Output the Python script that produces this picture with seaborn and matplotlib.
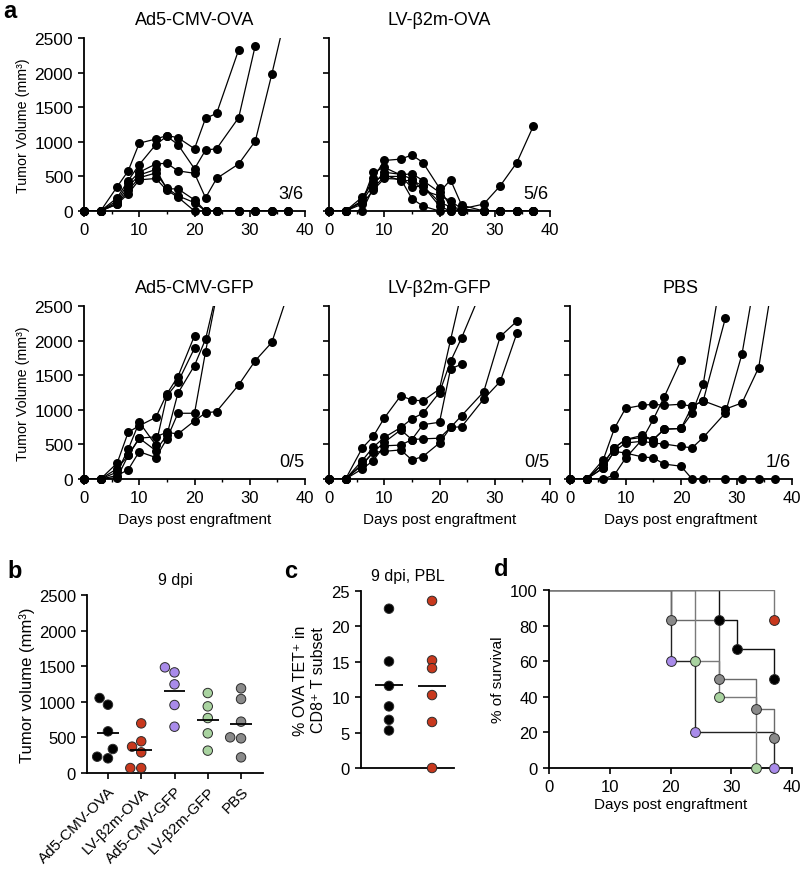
import numpy as np
import pandas as pd
import matplotlib
matplotlib.use("Agg")
import matplotlib.pyplot as plt
import seaborn as sns

# ---------------- data ----------------
DAYS = [0, 3, 6, 8, 10, 13, 15, 17, 20, 22, 24, 28, 31, 34, 37]

AD5_OVA = [
    [0, 0, 350, 580, 980, 1040, 1090, 1060, 900, 1340, 1410, 2330],
    [0, 0, 190, 440, 670, 960, 1080, 960, 610, 880, 900, 1350, 2390],
    [0, 0, 150, 400, 560, 680, 690, 580, 545, 190, 470, 680, 1010, 1980, 3000],
    [0, 0, 120, 350, 520, 600, 320, 320, 160, 0, 0, 0, 0, 0, 0],
    [0, 0, 100, 300, 480, 550, 330, 220, 120, 0, 0, 0, 0, 0, 0],
    [0, 0, 100, 250, 450, 470, 300, 200, 0, 0, 0, 0, 0, 0, 0],
]
LV_OVA = [
    [0, 0, 200, 420, 520, 440, 440, 365, 125, 60, 30, 100, 365, 700, 1230],
    [0, 0, 150, 470, 730, 750, 810, 700, 330, 60, 0, 0, 0, 0, 0],
    [0, 0, 130, 560, 630, 520, 540, 440, 270, 450, 85, 0, 0, 0, 0],
    [0, 0, 140, 380, 560, 530, 460, 295, 220, 150, 30, 0, 0, 0, 0],
    [0, 0, 0, 330, 500, 500, 340, 365, 70, 0, 0, 0, 0, 0, 0],
    [0, 0, 100, 300, 470, 460, 180, 70, 0, 0, 0, 0, 0, 0, 0],
]
AD5_GFP = [
    [0, 0, 230, 675, 770, 890, 1230, 1480, 2070],
    [0, 0, 100, 430, 820, 490, 1200, 1400, 1890],
    [0, 0, 150, 340, 590, 410, 635, 1240, 1640, 2020, 2700],
    [0, 0, 50, 135, 395, 310, 580, 950, 950, 1840, 2650],
    [0, 0, 20, 340, 590, 610, 675, 650, 840, 955, 975, 1360, 1710, 1975, 2700],
]
LV_GFP = [
    [0, 0, 445, 615, 880, 1205, 1140, 1130, 1300, 2010, 2700],
    [0, 0, 265, 460, 600, 745, 870, 950, 1250, 1700, 2040, 2800],
    [0, 0, 215, 385, 530, 710, 570, 785, 820, 1590, 1660],
    [0, 0, 145, 265, 480, 490, 570, 580, 590, 745, 915, 1260, 2060, 2280],
    [0, 0, 200, 385, 400, 420, 275, 325, 520, 745, 755, 1155, 1410, 2105],
]
PBS = [
    [0, 0, 160, 400, 375, 320, 305, 215, 185, 0, 0, 0, 0, 0, 0],
    [0, 0, 0, 60, 300, 570, 860, 1190, 1715],
    [0, 0, 280, 730, 1020, 1065, 1080, 1065, 1080, 1050, 1130, 1010, 1100, 1610, 3100],
    [0, 0, 220, 450, 570, 630, 570, 720, 730, 955, 1370, 3300],
    [0, 0, 160, 400, 520, 545, 520, 505, 470, 450, 600, 955, 1810, 3200],
    [0, 0, 220, 450, 570, 600, 570, 720, 730, 1050, 1130, 2325],
]
TUMOR_TITLES = ["Ad5-CMV-OVA", "LV-\u03b22m-OVA", "Ad5-CMV-GFP", "LV-\u03b22m-GFP", "PBS"]
TUMOR_FREE = ["3/6", "5/6", "0/5", "0/5", "1/6"]

# panel b (9 dpi tumour volume)
GROUPS = ["Ad5-CMV-OVA", "LV-\u03b22m-OVA", "Ad5-CMV-GFP", "LV-\u03b22m-GFP", "PBS"]
B_AD5_OVA = [1053, 959, 585, 337, 206, 229]
B_LV_OVA = [697, 445, 370, 290, 70, 70]
B_AD5_GFP = [1484, 1413, 1245, 955, 650]
B_LV_GFP = [1123, 936, 772, 557, 314]
B_PBS = [1189, 1039, 721, 501, 487, 220]
GROUP_COLORS = ["#000000", "#c8381d", "#a98bea", "#a9d3a0", "#8a8a8a"]

# panel c (tetramer)
C_AD5_OVA = [22.5, 15.05, 11.6, 8.7, 6.8, 5.3]
C_LV_OVA = [23.6, 15.2, 14.1, 10.3, 6.5, 0.0]

# panel d (survival)
SURV_T = {
    "Ad5-CMV-OVA": [0, 28, 31, 37],
    "LV-\u03b22m-OVA": [0, 37],
    "Ad5-CMV-GFP": [0, 20, 24, 37],
    "LV-\u03b22m-GFP": [0, 24, 28, 34],
    "PBS": [0, 20, 28, 34, 37],
}
SURV_S = {
    "Ad5-CMV-OVA": [100, 83.3, 66.7, 50],
    "LV-\u03b22m-OVA": [100, 83.3],
    "Ad5-CMV-GFP": [100, 60, 20, 0],
    "LV-\u03b22m-GFP": [100, 60, 40, 0],
    "PBS": [100, 83.3, 50, 33.3, 16.7],
}
SURV_LINE = {
    "Ad5-CMV-OVA": "#111111",
    "LV-\u03b22m-OVA": "#7a7a7a",
    "Ad5-CMV-GFP": "#222222",
    "LV-\u03b22m-GFP": "#7a7a7a",
    "PBS": "#6a6a6a",
}

# ---------------- style ----------------
sns.set_theme(style="ticks")
plt.rcParams["font.family"] = ["Liberation Sans", "DejaVu Sans"]
plt.rcParams.update({
    "axes.linewidth": 1.3,
    "xtick.major.width": 1.2,
    "ytick.major.width": 1.2,
    "xtick.minor.width": 1.0,
    "xtick.major.size": 4.5,
    "ytick.major.size": 4.5,
    "xtick.minor.size": 2.5,
    "xtick.labelsize": 11.5,
    "ytick.labelsize": 11.5,
    "axes.labelsize": 11,
    "axes.edgecolor": "black",
    "xtick.color": "black",
    "ytick.color": "black",
    "text.color": "black",
    "axes.labelcolor": "black",
})

W, H = 800, 870
fig = plt.figure(figsize=(W / 100, H / 100), dpi=100)


def add_ax(l, t, r, b):
    return fig.add_axes([l / W, 1 - b / H, (r - l) / W, (b - t) / H])


def tumor_panel(ax, mice, title, ratio, ylab, xlab):
    rows = []
    for i, m in enumerate(mice):
        for d, v in zip(DAYS, m):
            rows.append((i, d, v))
    df = pd.DataFrame(rows, columns=["mouse", "day", "vol"])
    sns.lineplot(data=df, x="day", y="vol", units="mouse", estimator=None,
                 color="black", lw=0.9, ax=ax, sort=False, legend=False)
    vis = df[df.vol <= 2500]
    sns.scatterplot(data=vis, x="day", y="vol", color="black", s=42,
                    linewidth=0, ax=ax, clip_on=False, zorder=5, legend=False)
    ax.set_xlim(0, 40)
    ax.set_ylim(0, 2500)
    ax.set_xticks([0, 10, 20, 30, 40])
    ax.set_xticks(np.arange(0, 41, 5), minor=True)
    ax.set_yticks(np.arange(0, 2501, 500))
    ax.tick_params(axis="y", labelsize=12.5)
    ax.tick_params(axis="x", labelsize=12)
    if not ylab:
        ax.set_yticklabels([])
        ax.set_ylabel("")
    else:
        ax.set_ylabel("Tumor Volume (mm\u00b3)", labelpad=3, fontsize=10.3)
    ax.set_xlabel("Days post engraftment" if xlab else "", labelpad=5)
    ax.set_title(title, fontsize=13, pad=10)
    ax.text(0.995, 0.10, ratio, transform=ax.transAxes, ha="right",
            va="center", fontsize=13)
    sns.despine(ax=ax)


ax1 = add_ax(84, 39, 305, 212)
ax2 = add_ax(329, 39, 550, 212)
ax3 = add_ax(84, 307, 305, 480)
ax4 = add_ax(329, 307, 550, 480)
ax5 = add_ax(570, 307, 792, 480)
tumor_panel(ax1, AD5_OVA, TUMOR_TITLES[0], TUMOR_FREE[0], True, False)
tumor_panel(ax2, LV_OVA, TUMOR_TITLES[1], TUMOR_FREE[1], False, False)
tumor_panel(ax3, AD5_GFP, TUMOR_TITLES[2], TUMOR_FREE[2], True, True)
tumor_panel(ax4, LV_GFP, TUMOR_TITLES[3], TUMOR_FREE[3], False, True)
tumor_panel(ax5, PBS, TUMOR_TITLES[4], TUMOR_FREE[4], False, True)

# ---------------- panel b ----------------
axb = add_ax(87, 596, 263, 774)
bvals = [B_AD5_OVA, B_LV_OVA, B_AD5_GFP, B_LV_GFP, B_PBS]
dfb = pd.DataFrame([(g, v) for g, vs in zip(GROUPS, bvals) for v in vs],
                   columns=["group", "val"])
pal = dict(zip(GROUPS, GROUP_COLORS))
sns.swarmplot(data=dfb, x="group", y="val", hue="group", palette=pal,
              order=GROUPS, size=6.8, edgecolor="#2b2b2b", linewidth=0.7,
              ax=axb, legend=False, clip_on=False, zorder=3)
means = dfb.groupby("group", sort=False)["val"].mean()
for i, g in enumerate(GROUPS):
    axb.hlines(means[g], i - 0.33, i + 0.33, color="black", lw=1.3, zorder=4)
axb.set_ylim(0, 2500)
axb.set_yticks(np.arange(0, 2501, 500))
axb.set_xlim(-0.63, 4.66)
axb.set_xlabel("")
axb.set_ylabel("Tumor volume (mm\u00b3)", labelpad=3, fontsize=12)
axb.set_title("9 dpi", fontsize=11.5, pad=8)
axb.tick_params(axis="y", labelsize=12)
axb.tick_params(axis="x", labelsize=11)
plt.setp(axb.get_xticklabels(), rotation=45, ha="right", rotation_mode="anchor")
sns.despine(ax=axb)

# ---------------- panel c ----------------
axc = add_ax(361, 592, 454, 769)
cgroups = GROUPS[:2]
dfc = pd.DataFrame([(g, v) for g, vs in zip(cgroups, [C_AD5_OVA, C_LV_OVA]) for v in vs],
                   columns=["group", "val"])
sns.stripplot(data=dfc, x="group", y="val", hue="group", palette=pal,
              order=cgroups, jitter=False, size=6.8, edgecolor="#2b2b2b",
              linewidth=0.7, ax=axc, legend=False, clip_on=False, zorder=3)
cmeans = dfc.groupby("group", sort=False)["val"].mean()
for i, g in enumerate(cgroups):
    axc.hlines(cmeans[g], i - 0.32, i + 0.32, color="black", lw=1.3, zorder=4)
axc.set_ylim(0, 25)
axc.set_yticks(np.arange(0, 26, 5))
axc.set_xlim(-0.65, 1.51)
axc.set_xticks([])
axc.set_xlabel("")
axc.set_ylabel("% OVA TET\u207a in\nCD8\u207a T subset", labelpad=4, fontsize=11.5)
axc.set_title("9 dpi, PBL", fontsize=11.5, pad=8)
axc.tick_params(axis="y", labelsize=12)
sns.despine(ax=axc)

# ---------------- panel d ----------------
axd = add_ax(549, 591, 792, 769)
order_d = ["Ad5-CMV-GFP", "Ad5-CMV-OVA", "PBS", "LV-\u03b22m-GFP", "LV-\u03b22m-OVA"]
for g in order_d:
    dfd = pd.DataFrame({"t": SURV_T[g], "s": SURV_S[g]})
    sns.lineplot(data=dfd, x="t", y="s", drawstyle="steps-post",
                 color=SURV_LINE[g], lw=1.0, ax=axd, legend=False,
                 estimator=None, sort=False)
for g in order_d:
    dfd = pd.DataFrame({"t": SURV_T[g][1:], "s": SURV_S[g][1:]})
    sns.scatterplot(data=dfd, x="t", y="s", color=pal[g], s=50,
                    edgecolor="#2b2b2b", linewidth=0.7, ax=axd, zorder=5,
                    clip_on=False, legend=False)
axd.set_xlim(0, 40)
axd.set_ylim(0, 100)
axd.set_xticks([0, 10, 20, 30, 40])
axd.set_yticks(np.arange(0, 101, 20))
axd.set_xlabel("Days post engraftment", labelpad=2)
axd.set_ylabel("% of survival", labelpad=4)
axd.tick_params(labelsize=12)
sns.despine(ax=axd)

# panel letters
for lab, x, y in [("a", 3, 12), ("b", 7, 572), ("c", 284, 572), ("d", 494, 570)]:
    fig.text(x / W, 1 - y / H, lab, fontsize=17, fontweight="bold",
             ha="left", va="center")

fig.savefig("out.png", dpi=100)
